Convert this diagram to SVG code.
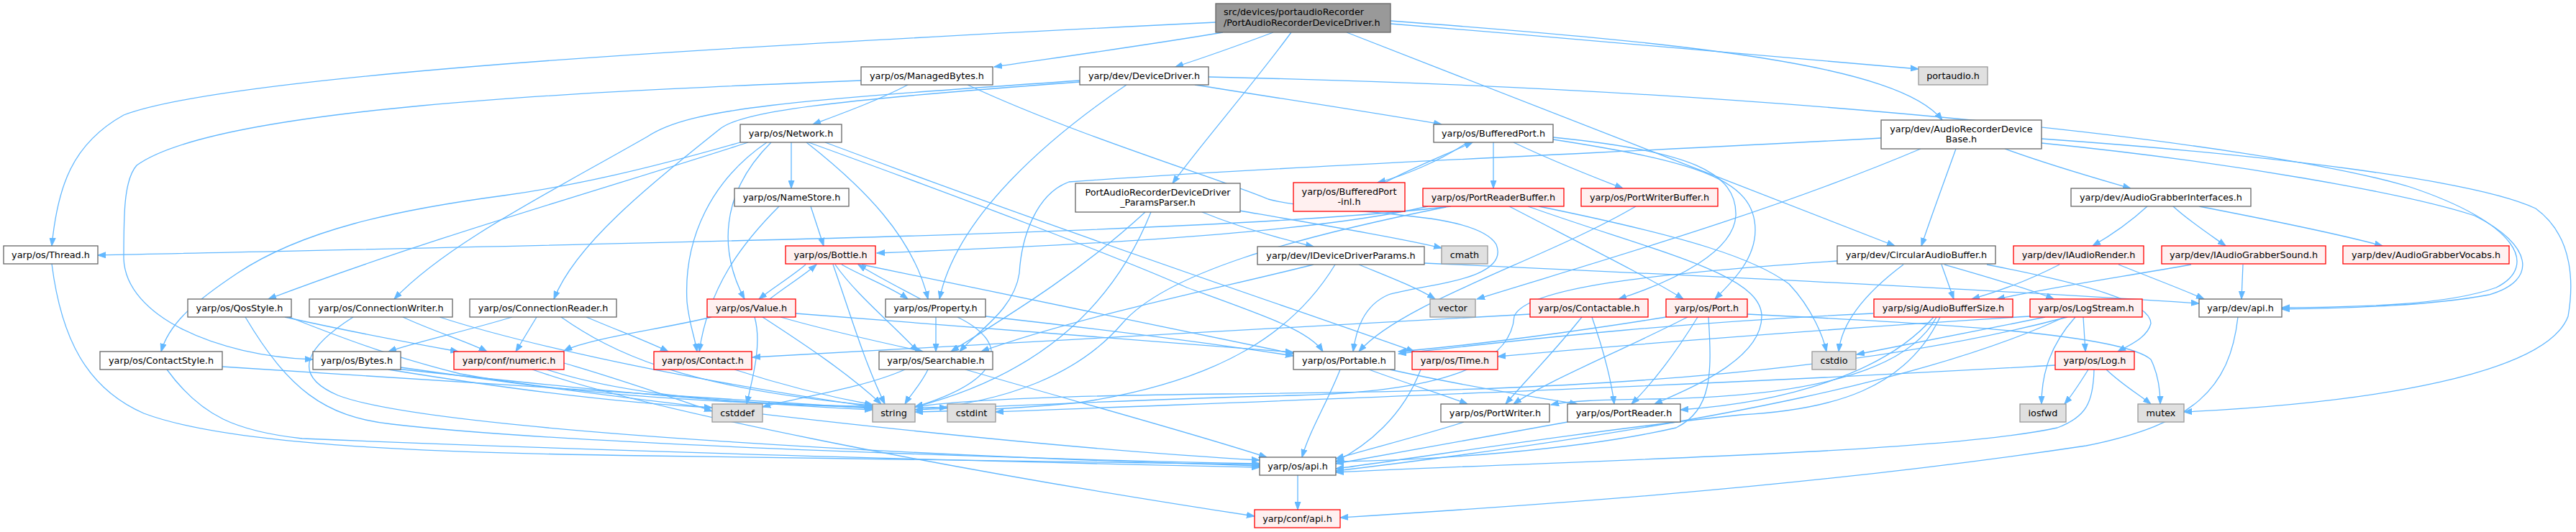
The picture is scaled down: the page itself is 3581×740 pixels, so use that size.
<svg xmlns="http://www.w3.org/2000/svg" width="3581" height="740" viewBox="0 0 3581 740">
<defs>
<marker id="ah" markerWidth="12" markerHeight="9" refX="11" refY="4.5" orient="auto" markerUnits="userSpaceOnUse"><path d="M0,0.5 L11,4.5 L0,8.5 z" fill="#63b8ff" stroke="#63b8ff" stroke-width="1"/></marker>
<style>
text{font-family:"DejaVu Sans","Liberation Sans",sans-serif;font-size:12.8px;text-anchor:middle;fill:#000}
.n rect{fill:#fff;stroke:#666;stroke-width:1.3}
.r rect{fill:#fff0f0;stroke:#f00;stroke-width:1.3}
.g rect{fill:#e0e0e0;stroke:#999;stroke-width:1.3}
.root rect{fill:#999;stroke:#666;stroke-width:1.3}
.root text{text-anchor:start}
#edges path{fill:none;stroke:#63b8ff;stroke-width:1.3;marker-end:url(#ah)}
</style>
</defs>
<rect width="3581" height="740" fill="#fff"/>
<g id="edges">
<path d="M1700,45 C1600,62 1470,80 1382,93"/>
<path d="M1770,45 C1730,60 1680,78 1634,93"/>
<path d="M1690,31 C1100,60 330,100 172,160 C100,200 80,260 72,342"/>
<path d="M1933,33 C2200,55 2500,80 2667,96"/>
<path d="M1933,29 C2350,60 2640,90 2700,167"/>
<path d="M1795,45 C1740,120 1670,200 1630,255"/>
<path d="M1872,45 C2100,135 2400,250 2634,342"/>
<path d="M1197,112 C800,128 300,150 190,230 C172,250 172,300 172,360 C175,440 300,495 435,500"/>
<path d="M1262,118 C1220,140 1170,158 1130,173"/>
<path d="M1345,118 C1500,190 1700,250 1763,277 C1850,300 2050,290 2080,340 C2100,390 1980,395 1930,410 C1895,425 1885,460 1881,489"/>
<path d="M1501,112 C1100,140 960,150 900,190 C760,270 620,340 548,416"/>
<path d="M1501,114 C1150,140 1030,155 1000,180 C900,260 800,340 770,416"/>
<path d="M1661,118 C1780,137 1900,155 2004,173"/>
<path d="M1680,107 C2500,125 3150,200 3350,260 C3500,310 3530,370 3470,400 C3400,425 3280,427 3172,428"/>
<path d="M1566,118 C1460,190 1330,300 1306,416"/>
<path d="M1029,198 C900,235 800,258 700,272 C550,292 420,320 330,380 C270,420 235,450 224,489"/>
<path d="M1040,198 C850,260 600,330 373,416"/>
<path d="M1066,198 C990,250 950,330 955,420 C958,450 966,470 969,489"/>
<path d="M1072,198 C1000,270 1000,350 1035,416"/>
<path d="M1100,198 L1100,262"/>
<path d="M1121,198 C1200,260 1270,330 1290,416"/>
<path d="M1124,198 C1350,280 1560,360 1650,400 C1760,440 1820,460 1839,489"/>
<path d="M1147,198 C1500,330 1800,430 1966,489"/>
<path d="M1127,287 L1145,342"/>
<path d="M1083,287 C1030,340 985,400 972,489"/>
<path d="M1671,295 C1720,315 1780,332 1826,343"/>
<path d="M1723,293 C1850,315 1950,332 2004,345"/>
<path d="M1592,295 C1500,380 1400,440 1322,489"/>
<path d="M1600,295 C1550,420 1450,520 1272,566"/>
<path d="M2040,198 C2000,225 1950,245 1915,254"/>
<path d="M1925,254 C1960,235 2010,215 2047,198"/>
<path d="M2076,198 L2076,262"/>
<path d="M2104,198 C2160,225 2220,248 2256,262"/>
<path d="M2159,191 C2350,210 2415,240 2413,300 C2410,350 2330,390 2250,416"/>
<path d="M2159,194 C2360,225 2440,250 2440,320 C2440,360 2410,390 2384,416"/>
<path d="M2017,287 C1700,325 900,338 136,355"/>
<path d="M1985,287 C1800,330 1400,345 1219,352"/>
<path d="M2010,288 C1800,330 1620,380 1560,450 C1500,520 1400,560 1272,570"/>
<path d="M2098,287 C2200,340 2300,390 2340,416"/>
<path d="M2124,287 C2300,350 2449,380 2449,440 C2449,500 2350,540 2300,562"/>
<path d="M2139,287 C2350,330 2440,360 2487,395 C2520,430 2535,470 2539,489"/>
<path d="M2274,287 C2150,360 1950,420 1889,489"/>
<path d="M2787,207 C2850,230 2920,250 2962,262"/>
<path d="M2719,207 C2700,260 2685,300 2671,342"/>
<path d="M2838,199 C3100,225 3350,270 3440,300 C3520,340 3530,390 3460,410 C3380,425 3280,428 3172,430"/>
<path d="M2838,193 C3150,215 3440,250 3525,290 C3580,330 3577,400 3570,440 C3540,520 3300,560 3036,573"/>
<path d="M2670,207 C2450,300 2200,370 2053,416"/>
<path d="M2615,192 C2300,210 1800,230 1486,253 C1440,270 1420,330 1417,380 C1410,430 1360,460 1334,489"/>
<path d="M2985,287 C2960,310 2930,330 2909,342"/>
<path d="M3021,287 C3040,305 3070,325 3094,342"/>
<path d="M3057,287 C3150,305 3250,325 3312,342"/>
<path d="M1120,368 C1100,385 1075,400 1055,416"/>
<path d="M1070,416 C1090,400 1115,385 1135,368"/>
<path d="M1170,368 C1200,385 1240,400 1262,416"/>
<path d="M1280,416 C1250,400 1220,385 1193,368"/>
<path d="M1158,368 C1180,430 1200,500 1230,562"/>
<path d="M1161,368 C1190,410 1240,450 1276,489"/>
<path d="M1198,368 C1450,420 1700,470 1798,492"/>
<path d="M989,441 C920,458 820,470 784,488"/>
<path d="M1049,441 C1060,480 1045,530 1038,562"/>
<path d="M1060,441 C1120,480 1180,520 1225,562"/>
<path d="M1085,441 C1150,460 1220,475 1283,489"/>
<path d="M1106,436 C1400,460 1650,480 1798,490"/>
<path d="M1301,441 L1301,489"/>
<path d="M1331,441 C1410,480 1390,530 1272,566"/>
<path d="M1370,440 C1550,460 1700,480 1798,495"/>
<path d="M1889,368 C1930,385 1970,400 1995,416"/>
<path d="M1980,366 C2400,385 2800,405 3057,422"/>
<path d="M1826,368 C1700,400 1500,440 1364,489"/>
<path d="M1856,368 C1800,460 1700,530 1500,560 C1400,570 1320,572 1272,573"/>
<path d="M2699,368 L2716,416"/>
<path d="M2703,368 C2780,390 2830,405 2855,416"/>
<path d="M2646,368 C2590,410 2560,450 2556,489"/>
<path d="M2762,368 C2900,395 2990,420 2990,450 C2985,470 2960,480 2944,489"/>
<path d="M2554,363 C2300,380 2120,400 2105,440 C2100,510 2000,545 1800,550 C1600,555 1400,565 1272,570"/>
<path d="M2863,368 C2820,390 2780,405 2741,416"/>
<path d="M2945,368 C3000,390 3040,405 3064,416"/>
<path d="M3046,368 C2950,385 2850,400 2776,416"/>
<path d="M3118,368 L3116,416"/>
<path d="M396,441 C480,460 560,475 637,489"/>
<path d="M341,441 C400,540 450,580 545,590 C800,620 1500,640 1751,645"/>
<path d="M402,441 C500,480 560,500 640,520 C800,550 1000,560 1213,567"/>
<path d="M560,441 C600,460 650,475 677,489"/>
<path d="M491,441 C430,480 400,520 470,550 C600,600 1300,635 1751,648"/>
<path d="M611,441 C700,470 900,520 1213,566"/>
<path d="M746,441 L717,489"/>
<path d="M712,441 C650,460 580,475 540,489"/>
<path d="M815,441 C860,460 900,475 929,489"/>
<path d="M780,441 C850,490 950,540 1213,564"/>
<path d="M232,514 C280,580 330,600 420,610 C900,630 1500,645 1751,650"/>
<path d="M309,510 C600,530 900,550 1213,568"/>
<path d="M551,513 C800,540 1000,560 1213,570"/>
<path d="M557,511 C900,560 1400,620 1751,640"/>
<path d="M540,514 C700,540 850,560 990,567"/>
<path d="M740,514 C900,570 1300,650 1744,718"/>
<path d="M784,505 C870,530 940,555 990,572"/>
<path d="M760,514 C900,560 1100,565 1317,567"/>
<path d="M1021,514 C1100,540 1170,555 1213,563"/>
<path d="M1258,514 C1200,540 1100,555 1060,566"/>
<path d="M1290,514 C1280,535 1265,550 1258,562"/>
<path d="M1342,514 C1500,560 1650,600 1761,636"/>
<path d="M1863,514 C1845,560 1820,600 1810,636"/>
<path d="M1903,514 C1960,535 2010,550 2040,562"/>
<path d="M1932,514 C2050,540 2150,555 2193,562"/>
<path d="M1975,514 C1950,580 1900,620 1857,642"/>
<path d="M2127,437 C1800,457 1300,480 1046,497"/>
<path d="M2199,441 C2160,490 2120,530 2093,562"/>
<path d="M2213,441 C2230,490 2240,530 2244,562"/>
<path d="M2316,441 C2200,460 2050,480 1944,489"/>
<path d="M2346,441 C2250,490 2150,530 2104,562"/>
<path d="M2360,441 C2330,490 2300,530 2268,562"/>
<path d="M2375,441 C2380,520 2380,570 2330,595 C2200,625 2000,640 1857,642"/>
<path d="M2429,437 C2700,450 2950,465 2990,500 C3000,520 3003,545 3003,562"/>
<path d="M2604,436 C2300,450 2100,475 1944,492"/>
<path d="M2688,441 C2620,520 2480,560 2336,570"/>
<path d="M2692,441 C2650,520 2500,552 2300,555 C2220,556 2180,558 2156,563"/>
<path d="M2697,441 C2650,540 2550,570 2420,577 C2200,600 1950,640 1857,652"/>
<path d="M2896,441 L2899,489"/>
<path d="M2885,441 C2850,480 2838,520 2838,562"/>
<path d="M2843,441 C2750,460 2650,480 2581,493"/>
<path d="M2822,440 C2500,460 2200,485 2082,496"/>
<path d="M2870,441 C2700,520 2400,590 1857,655"/>
<path d="M2874,441 C2500,540 2000,545 1700,548 C1500,550 1350,555 1272,566"/>
<path d="M2903,514 C2890,535 2880,550 2870,562"/>
<path d="M2928,514 C2950,535 2975,550 2990,562"/>
<path d="M2857,508 C2300,540 1700,560 1384,573"/>
<path d="M2911,514 C2910,560 2900,580 2860,595 C2700,630 2200,640 1857,657"/>
<path d="M3111,441 C3100,540 3050,590 2900,620 C2500,680 2100,705 1863,720"/>
<path d="M1804,661 L1804,709"/>
<path d="M2035,587 C1980,605 1900,625 1857,638"/>
<path d="M2179,587 C2050,610 1950,628 1857,645"/>
<path d="M72,367 C85,470 120,540 200,575 C320,620 600,630 900,634 C1300,638 1600,643 1751,646"/>
</g>
<g id="root" class="root"><rect x="1690" y="5" width="243" height="40"/><text x="1701" y="21">src/devices/portaudioRecorder</text><text x="1701" y="36">/PortAudioRecorderDeviceDriver.h</text></g>
<g id="managedbytes" class="n"><rect x="1197" y="93" width="183" height="25"/><text x="1288.5" y="110">yarp/os/ManagedBytes.h</text></g>
<g id="devicedriver" class="n"><rect x="1501" y="93" width="179" height="25"/><text x="1590.5" y="110">yarp/dev/DeviceDriver.h</text></g>
<g id="portaudio" class="g"><rect x="2667" y="93" width="96" height="25"/><text x="2715" y="110">portaudio.h</text></g>
<g id="audiorecorderdevicebase" class="n"><rect x="2615" y="167" width="223" height="40"/><text x="2726.5" y="184">yarp/dev/AudioRecorderDevice</text><text x="2726.5" y="198">Base.h</text></g>
<g id="network" class="n"><rect x="1029" y="173" width="141" height="25"/><text x="1099.5" y="190">yarp/os/Network.h</text></g>
<g id="bufferedport" class="n"><rect x="1993" y="173" width="166" height="25"/><text x="2076" y="190">yarp/os/BufferedPort.h</text></g>
<g id="namestore" class="n"><rect x="1021" y="262" width="159" height="25"/><text x="1100.5" y="279">yarp/os/NameStore.h</text></g>
<g id="paramsparser" class="n"><rect x="1495" y="255" width="229" height="40"/><text x="1609.5" y="272">PortAudioRecorderDeviceDriver</text><text x="1609.5" y="286">_ParamsParser.h</text></g>
<g id="bufferedportinl" class="r"><rect x="1798" y="254" width="155" height="40"/><text x="1875.5" y="271">yarp/os/BufferedPort</text><text x="1875.5" y="285">-inl.h</text></g>
<g id="portreaderbuffer" class="r"><rect x="1978" y="262" width="196" height="25"/><text x="2076" y="279">yarp/os/PortReaderBuffer.h</text></g>
<g id="portwriterbuffer" class="r"><rect x="2198" y="262" width="190" height="25"/><text x="2293" y="279">yarp/os/PortWriterBuffer.h</text></g>
<g id="audiograbberinterfaces" class="n"><rect x="2879" y="262" width="250" height="25"/><text x="3004" y="279">yarp/dev/AudioGrabberInterfaces.h</text></g>
<g id="thread" class="n"><rect x="5" y="342" width="131" height="25"/><text x="70.5" y="359">yarp/os/Thread.h</text></g>
<g id="bottle" class="r"><rect x="1092" y="342" width="125" height="25"/><text x="1154.5" y="359">yarp/os/Bottle.h</text></g>
<g id="ideviceDriverparams" class="n"><rect x="1748" y="343" width="232" height="25"/><text x="1864" y="360">yarp/dev/IDeviceDriverParams.h</text></g>
<g id="cmath" class="g"><rect x="2004" y="342" width="64" height="25"/><text x="2036" y="359">cmath</text></g>
<g id="circularaudiobuffer" class="n"><rect x="2554" y="342" width="220" height="25"/><text x="2664" y="359">yarp/dev/CircularAudioBuffer.h</text></g>
<g id="iaudiorender" class="r"><rect x="2799" y="342" width="181" height="25"/><text x="2889.5" y="359">yarp/dev/IAudioRender.h</text></g>
<g id="iaudiograbbersound" class="r"><rect x="3005" y="342" width="228" height="25"/><text x="3119" y="359">yarp/dev/IAudioGrabberSound.h</text></g>
<g id="audiograbbervocabs" class="r"><rect x="3257" y="342" width="231" height="25"/><text x="3372.5" y="359">yarp/dev/AudioGrabberVocabs.h</text></g>
<g id="qosstyle" class="n"><rect x="261" y="416" width="144" height="25"/><text x="333" y="433">yarp/os/QosStyle.h</text></g>
<g id="connectionwriter" class="n"><rect x="430" y="416" width="199" height="25"/><text x="529.5" y="433">yarp/os/ConnectionWriter.h</text></g>
<g id="connectionreader" class="n"><rect x="653" y="416" width="204" height="25"/><text x="755" y="433">yarp/os/ConnectionReader.h</text></g>
<g id="value" class="r"><rect x="983" y="416" width="123" height="25"/><text x="1044.5" y="433">yarp/os/Value.h</text></g>
<g id="property" class="n"><rect x="1231" y="416" width="139" height="25"/><text x="1300.5" y="433">yarp/os/Property.h</text></g>
<g id="vector" class="g"><rect x="1988" y="416" width="63" height="25"/><text x="2019.5" y="433">vector</text></g>
<g id="contactable" class="r"><rect x="2127" y="416" width="164" height="25"/><text x="2209" y="433">yarp/os/Contactable.h</text></g>
<g id="port" class="r"><rect x="2316" y="416" width="113" height="25"/><text x="2372.5" y="433">yarp/os/Port.h</text></g>
<g id="audiobuffersize" class="r"><rect x="2605" y="416" width="193" height="25"/><text x="2701.5" y="433">yarp/sig/AudioBufferSize.h</text></g>
<g id="logstream" class="r"><rect x="2822" y="416" width="156" height="25"/><text x="2900" y="433">yarp/os/LogStream.h</text></g>
<g id="devapi" class="n"><rect x="3057" y="416" width="115" height="25"/><text x="3114.5" y="433">yarp/dev/api.h</text></g>
<g id="contactstyle" class="n"><rect x="139" y="489" width="170" height="25"/><text x="224" y="506">yarp/os/ContactStyle.h</text></g>
<g id="bytes" class="n"><rect x="435" y="489" width="122" height="25"/><text x="496" y="506">yarp/os/Bytes.h</text></g>
<g id="numeric" class="r"><rect x="631" y="489" width="153" height="25"/><text x="707.5" y="506">yarp/conf/numeric.h</text></g>
<g id="contact" class="r"><rect x="909" y="489" width="136" height="25"/><text x="977" y="506">yarp/os/Contact.h</text></g>
<g id="searchable" class="n"><rect x="1222" y="489" width="158" height="25"/><text x="1301" y="506">yarp/os/Searchable.h</text></g>
<g id="portable" class="n"><rect x="1798" y="489" width="141" height="25"/><text x="1868.5" y="506">yarp/os/Portable.h</text></g>
<g id="time" class="r"><rect x="1963" y="489" width="119" height="25"/><text x="2022.5" y="506">yarp/os/Time.h</text></g>
<g id="cstdio" class="g"><rect x="2519" y="489" width="61" height="25"/><text x="2549.5" y="506">cstdio</text></g>
<g id="log" class="r"><rect x="2857" y="489" width="110" height="25"/><text x="2912" y="506">yarp/os/Log.h</text></g>
<g id="cstddef" class="g"><rect x="990" y="562" width="70" height="25"/><text x="1025" y="579">cstddef</text></g>
<g id="string" class="g"><rect x="1213" y="562" width="59" height="25"/><text x="1242.5" y="579">string</text></g>
<g id="cstdint" class="g"><rect x="1317" y="562" width="67" height="25"/><text x="1350.5" y="579">cstdint</text></g>
<g id="portwriter" class="n"><rect x="2003" y="562" width="151" height="25"/><text x="2078.5" y="579">yarp/os/PortWriter.h</text></g>
<g id="portreader" class="n"><rect x="2179" y="562" width="157" height="25"/><text x="2257.5" y="579">yarp/os/PortReader.h</text></g>
<g id="iosfwd" class="g"><rect x="2808" y="562" width="64" height="25"/><text x="2840" y="579">iosfwd</text></g>
<g id="mutex" class="g"><rect x="2972" y="562" width="64" height="25"/><text x="3004" y="579">mutex</text></g>
<g id="osapi" class="n"><rect x="1751" y="636" width="106" height="25"/><text x="1804" y="653">yarp/os/api.h</text></g>
<g id="confapi" class="r"><rect x="1744" y="709" width="119" height="25"/><text x="1803.5" y="726">yarp/conf/api.h</text></g>
</svg>
